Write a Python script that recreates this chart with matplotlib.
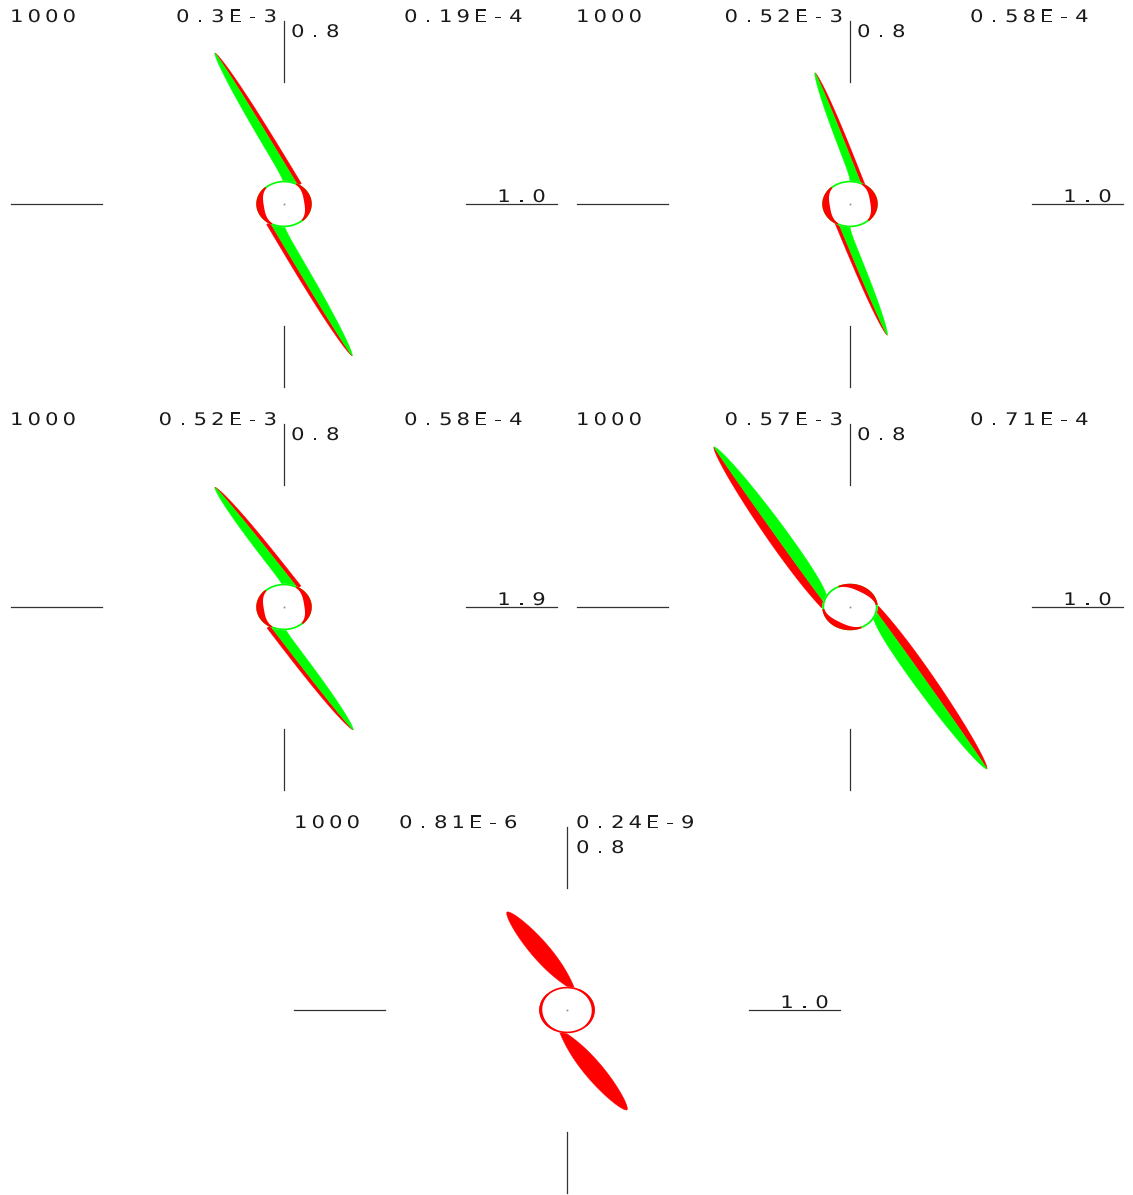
import numpy as np
import matplotlib
matplotlib.use("Agg")
import matplotlib.pyplot as plt
from matplotlib.patheffects import AbstractPathEffect
from matplotlib.transforms import Affine2D

# run labels for each frame
run_ids = ["1000", "1000", "1000", "1000", "1000"]
err_a = ["0.3E-3", "0.52E-3", "0.52E-3", "0.57E-3", "0.81E-6"]
err_b = ["0.19E-4", "0.58E-4", "0.58E-4", "0.71E-4", "0.24E-9"]
ybar_label = ["0.8", "0.8", "0.8", "0.8", "0.8"]
xbar_label = ["1.0", "1.0", "1.9", "1.0", "1.0"]

# blade tips in scale-bar units (x bar = 1.0, y bar = 0.8)
tip_upper = [(-0.76, 1.98), (-0.385, 1.72), (-0.76, 1.57), (-1.495, 2.10), (-0.66, 1.285)]
tip_lower = [(0.75, -1.99), (0.41, -1.72), (0.76, -1.61), (1.505, -2.125), (0.66, -1.31)]
root_angle = [60, 66, 60, 172, 68]      # where the upper blade leaves the hub (deg)
hub_radius = [0.305, 0.305, 0.305, 0.305, 0.305]
red_share = [0.3, 0.3, 0.3, 0.42, 1.0]  # part of the blade seen from the red side
red_side = [-1, -1, -1, 1, -1]
crescent_angle = [8, 8, 8, 60, 10]

# drawing sizes (pixels) and blade outline shape
blade_width = [13, 11, 13, 20, 18]
tip_taper = [3.0, 3.0, 3.0, 2.5, 2.0]
root_pinch = [0.0, 0.0, 0.0, 0.45, 1.0]
pinch_len = [0.1, 0.1, 0.1, 0.2, 0.35]
neck_flare = [6, 6, 6, 4, 0]
crescent_depth = [0.06, 0.06, 0.06, 0.055, 0.012]
ring_color = ["#00ff00", "#00ff00", "#00ff00", "#00ff00", "#ff0000"]

W, H = 1133, 1195
SX, SY = 91.0, 76.25     # pixels per unit along x and y
SCALE = np.array([SX, SY])
ADV, GLYPH = 17.5, 13.5
RED, GREEN = "#ff0000", "#00ff00"
centers = [(284, 204), (850, 204), (284, 607), (850, 607), (567, 1010)]


class Widen(AbstractPathEffect):
    """Draw each glyph stretched sideways about its own centre."""

    def __init__(self, sx):
        super().__init__()
        self.sx = sx

    def draw_path(self, renderer, gc, tpath, affine, rgbFace=None):
        ext = tpath.get_extents()
        xc = 0.5 * (ext.x0 + ext.x1)
        stretch = Affine2D().translate(-xc, 0).scale(self.sx, 1).translate(xc, 0)
        renderer.draw_path(gc, tpath, stretch + affine, rgbFace)


fig = plt.figure(figsize=(W / 100, H / 100), dpi=100)
fig.patch.set_facecolor("white")


def spaced(ax, s, x_px, y_px, anchor="left"):
    # fixed-pitch wide lettering, one glyph per cell
    if anchor == "right":
        x_px -= (len(s) - 1) * ADV + GLYPH
    for i, ch in enumerate(s):
        ax.text((x_px + GLYPH / 2 + i * ADV) / SX, y_px / SY, ch,
                ha="center", va="center", fontsize=12.5, color="#1a1a1a",
                family="DejaVu Sans", clip_on=False,
                path_effects=[Widen(1.22)])


def blade(ax, root, tip, k):
    r = np.array(root) * SCALE
    t = np.array(tip) * SCALE
    d = t - r
    L = np.hypot(*d)
    d = d / L
    n = np.array([-d[1], d[0]])
    u = np.linspace(0, 1, 300)
    prof = (1 - u ** tip_taper[k]) ** 0.6 * (1 - root_pinch[k] * np.exp(-u / pinch_len[k]))
    half = 0.5 * blade_width[k] * prof / prof.max()
    flare = neck_flare[k] * np.exp(-u / 0.05)
    axis = r + np.outer(u * L, d)
    side = red_side[k]

    def edge(s):
        w = half * s + np.where(np.sign(s) == -side, flare * abs(s), 0)
        return (axis + np.outer(w, n)) / SCALE

    cut = side * (1 - 2 * red_share[k])
    red_poly = np.vstack([edge(side), edge(cut)[::-1]])
    ax.fill(red_poly[:, 0], red_poly[:, 1], color=RED, lw=0.3, zorder=2)
    if red_share[k] < 1:
        green_poly = np.vstack([edge(cut), edge(-side)[::-1]])
        ax.fill(green_poly[:, 0], green_poly[:, 1], color=GREEN, lw=0.3, zorder=2)


def hub(ax, k):
    R = hub_radius[k]
    base = 0.022
    phi = np.linspace(0, 2 * np.pi, 400)
    ax.fill(R * np.cos(phi), R * np.sin(phi), color="white", lw=0, zorder=3)
    ring = np.concatenate([np.c_[R * np.cos(phi), R * np.sin(phi)],
                           np.c_[(R - base) * np.cos(phi), (R - base) * np.sin(phi)][::-1]])
    ax.fill(ring[:, 0], ring[:, 1], color=ring_color[k], lw=0, zorder=4)
    span = np.radians(55)
    for c in (crescent_angle[k], crescent_angle[k] + 180):
        c = np.radians(c)
        p = np.linspace(c - span, c + span, 120)
        bulge = np.clip(np.cos((p - c) / span * np.pi / 2), 0, None) ** 1.3
        depth = base + crescent_depth[k] * bulge
        outer = np.c_[R * np.cos(p), R * np.sin(p)]
        inner = np.c_[(R - depth) * np.cos(p), (R - depth) * np.sin(p)]
        poly = np.vstack([outer, inner[::-1]])
        ax.fill(poly[:, 0], poly[:, 1], color=RED, lw=0, zorder=5)
    ax.plot(0, 0, marker="s", ms=1.2, color="#888888", mew=0, zorder=6)


for k, (cx, cy) in enumerate(centers):
    ax = fig.add_axes([(cx - 284) / W, (H - (cy + 199)) / H, 567 / W, 403 / H])
    ax.set_xlim(-284 / SX, 283 / SX)
    ax.set_ylim(-199 / SY, 204 / SY)
    ax.set_axis_off()

    # blades, one either side of the hub
    a = np.radians(root_angle[k])
    root = 0.85 * hub_radius[k] * np.array([np.cos(a), np.sin(a)])
    blade(ax, root, tip_upper[k], k)
    blade(ax, -root, tip_lower[k], k)
    hub(ax, k)

    # scale bars
    bar = dict(color="#333333", lw=0.9, zorder=1)
    ax.plot([-3.0, -2.0], [0, 0], **bar)
    ax.plot([2.0, 3.0], [0, 0], **bar)
    ax.plot([0, 0], [1.6, 2.4], **bar)
    ax.plot([0, 0], [-1.6, -2.4], **bar)

    if k < 4:
        spaced(ax, run_ids[k], -274, 187)
        spaced(ax, err_a[k], -7, 187, anchor="right")
        spaced(ax, err_b[k], 120, 187)
        spaced(ax, ybar_label[k], 7, 172)
    else:
        spaced(ax, run_ids[k], -273, 187)
        spaced(ax, err_a[k], -168, 187)
        spaced(ax, err_b[k], 9, 187)
        spaced(ax, ybar_label[k], 9, 162)
    spaced(ax, xbar_label[k], 237.5 - (ADV + GLYPH / 2), 7)

fig.savefig("out.png", dpi=100, facecolor="white")
